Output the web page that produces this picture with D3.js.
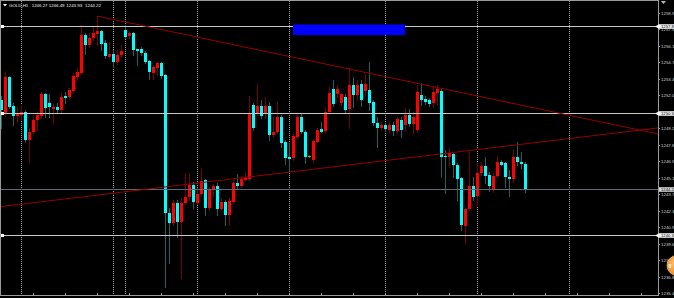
<!DOCTYPE html>
<html><head><meta charset="utf-8">
<script src="https://cdn.jsdelivr.net/npm/d3@7"></script>
<style>html,body{margin:0;padding:0;background:#000;overflow:hidden}</style>
</head><body><svg id="c" width="674" height="298"></svg>
<script>
// ---- data ----
const symbolTitle = "GOLD,H1";
const lastQuote = ["1246.27", "1246.49", "1243.93", "1244.22"];
const open = [
1251.64,1250.46,1253.56,1251.13,1250.30,1250.38,1250.63,1248.29,1248.96,1249.96,
1250.30,1252.14,1251.39,1250.88,1251.05,1250.80,1251.97,1251.89,1252.39,1253.56,
1253.89,1257.07,1256.24,1256.82,1257.16,1257.41,1256.40,1255.23,1255.48,1254.81,
1255.40,1257.49,1256.99,1257.24,1255.90,1255.90,1255.57,1254.90,1253.89,1254.31,
1254.73,1253.73,1242.18,1241.35,1243.02,1241.43,1243.02,1243.52,1244.53,1243.02,
1243.77,1244.94,1242.60,1244.19,1244.44,1242.52,1243.10,1242.02,1243.10,1244.69,
1244.44,1244.94,1245.03,1251.22,1250.55,1251.13,1250.55,1251.13,1248.71,1248.96,
1250.21,1248.12,1246.87,1246.78,1248.54,1250.21,1248.96,1246.95,1246.62,1248.12,
1249.21,1249.04,1250.63,1252.56,1252.14,1251.39,1251.89,1250.88,1252.89,1252.05,
1252.97,1252.39,1252.47,1251.47,1249.71,1249.29,1249.55,1249.13,1249.55,1249.04,
1249.96,1249.55,1250.38,1249.63,1249.13,1252.05,1251.72,1251.64,1251.39,1252.22,
1252.39,1246.95,1246.87,1247.12,1246.20,1245.11,1241.10,1242.52,1244.44,1243.61,
1245.53,1246.12,1245.36,1244.11,1245.28,1246.45,1246.37,1245.20,1245.03,1246.87,
1246.45,1246.27];
const high = [
1251.97,1253.98,1253.64,1251.39,1251.05,1251.22,1250.80,1249.29,1250.38,1250.63,
1252.31,1252.22,1252.14,1251.30,1251.39,1252.22,1252.31,1252.64,1253.89,1254.31,
1257.91,1257.24,1257.24,1257.74,1258.66,1257.49,1256.65,1256.49,1255.82,1255.82,
1256.24,1257.91,1257.41,1257.32,1255.90,1256.07,1255.73,1254.98,1254.56,1254.81,
1254.81,1253.81,1242.60,1243.27,1243.27,1243.44,1245.53,1245.53,1244.78,1244.28,
1245.95,1245.03,1244.36,1244.61,1244.69,1243.44,1243.27,1243.44,1244.94,1245.45,
1245.28,1245.61,1251.97,1251.39,1252.97,1251.64,1251.89,1251.47,1250.21,1251.47,
1250.38,1248.29,1248.04,1248.88,1250.46,1250.55,1249.13,1247.04,1248.37,1249.29,
1249.80,1251.05,1252.72,1253.31,1252.89,1252.22,1252.14,1254.31,1253.56,1253.31,
1253.31,1253.81,1254.81,1251.64,1250.21,1249.80,1249.71,1249.80,1249.80,1250.21,
1250.21,1250.97,1250.88,1250.63,1252.89,1253.06,1251.97,1251.80,1252.72,1252.89,
1252.56,1247.45,1247.62,1247.20,1246.37,1245.20,1242.69,1247.29,1245.20,1246.37,
1246.45,1246.87,1245.61,1245.53,1246.95,1246.62,1246.45,1245.78,1247.54,1248.12,
1247.29,1246.49];
const low = [
1249.29,1250.30,1250.97,1249.55,1249.80,1249.96,1248.12,1246.45,1248.88,1249.13,
1250.13,1250.21,1250.21,1249.71,1250.55,1250.55,1251.39,1251.72,1252.22,1253.31,
1253.81,1255.48,1256.07,1256.65,1256.24,1255.82,1255.15,1255.15,1254.40,1254.65,
1255.23,1256.82,1256.82,1255.40,1254.56,1255.40,1254.73,1253.39,1253.39,1253.73,
1253.48,1235.99,1238.00,1241.18,1240.18,1236.75,1242.94,1243.27,1242.60,1242.94,
1243.69,1242.02,1242.44,1243.61,1242.02,1242.44,1241.18,1241.18,1243.02,1244.28,
1244.36,1244.86,1244.94,1249.13,1250.38,1250.13,1250.13,1248.29,1248.54,1248.88,
1247.70,1246.28,1245.78,1246.62,1248.46,1248.88,1246.37,1246.87,1246.45,1248.12,
1248.96,1248.96,1250.55,1251.13,1251.89,1251.22,1250.55,1249.29,1251.05,1251.64,
1251.13,1252.05,1250.80,1249.55,1247.70,1249.13,1249.04,1248.96,1248.71,1248.88,
1248.54,1249.13,1249.46,1248.88,1248.96,1251.22,1251.30,1251.13,1251.05,1251.22,
1245.20,1243.86,1246.03,1245.20,1243.27,1240.76,1239.68,1242.44,1243.27,1242.85,
1245.36,1244.69,1244.02,1243.94,1245.20,1246.20,1244.36,1243.61,1244.78,1246.20,
1245.95,1243.93];
const close = [
1250.80,1253.56,1251.05,1250.30,1250.55,1250.63,1248.29,1248.96,1249.96,1250.38,
1252.14,1250.97,1251.05,1251.05,1250.80,1251.89,1251.80,1252.47,1253.64,1253.98,
1257.07,1256.24,1256.82,1257.24,1257.41,1256.32,1255.32,1255.48,1254.81,1255.40,
1255.73,1256.91,1257.24,1255.82,1255.73,1255.57,1254.81,1253.98,1254.40,1254.73,
1253.64,1242.18,1241.35,1243.02,1241.43,1243.02,1243.52,1244.53,1243.10,1243.77,
1244.86,1242.60,1244.19,1244.44,1242.52,1243.10,1242.02,1243.19,1244.69,1244.44,
1245.03,1245.20,1250.55,1249.29,1251.13,1250.30,1251.13,1248.71,1248.96,1250.21,
1248.04,1246.78,1246.70,1248.63,1250.21,1248.96,1246.87,1246.95,1248.21,1249.13,
1248.96,1250.63,1252.22,1251.30,1252.56,1252.14,1250.80,1252.89,1252.05,1252.89,
1251.64,1252.97,1251.39,1249.71,1249.29,1249.55,1249.21,1249.55,1249.04,1250.05,
1249.13,1250.38,1249.63,1250.21,1252.31,1251.64,1251.47,1251.30,1252.31,1252.56,
1246.87,1246.87,1247.20,1246.20,1245.03,1241.18,1242.52,1244.44,1243.52,1245.53,
1246.12,1245.28,1244.44,1245.28,1246.45,1246.20,1245.20,1245.03,1246.87,1246.45,
1246.28,1244.22];
const priceLabels = ["1258.92","1257.54","1256.16","1254.78","1253.40","1252.02","1250.64","1249.26",
  "1247.88","1246.50","1245.12","1243.74","1242.36","1240.98","1239.60","1238.22","1236.84","1235.46"];
const hLinePrices = [1257.83, 1250.55, 1240.35];
const bidPrice = 1244.22;
const separatorBars = [5, 28, 31, 49, 72, 96, 119, 142];
const trendDown = [[24, 1258.66], [118, 1252.05]];
const trendUp = [[0, 1242.72], [164, 1249.29]];
const rectBars = [73, 101];
const rectPrices = [1257.95, 1257.07];
const timeTickBars = d3.range(8, 164, 8);

// ---- layout ----
const W = 674, H = 298, plotR = 658, plotB = 295;
const svg = d3.select("#c");
svg.append("rect").attr("width", W).attr("height", H).attr("fill", "#000");
const x = d3.scaleLinear().domain([0, 164]).range([1, 657]);
const y = d3.scaleLinear().domain([1260 - 0.08364 * 298, 1260]).range([298, 0]);
const FONT = "'Liberation Sans', Arial, sans-serif";

const defs = svg.append("defs");
defs.append("clipPath").attr("id", "plot").append("rect").attr("x", 0).attr("y", 0).attr("width", plotR).attr("height", plotB);
const g = svg.append("g").attr("clip-path", "url(#plot)");

// separators
g.selectAll("line.sep").data(separatorBars).enter().append("line")
  .attr("x1", d => Math.round(x(d)) + 0.5).attr("x2", d => Math.round(x(d)) + 0.5)
  .attr("y1", 1).attr("y2", plotB)
  .attr("stroke", "#a0a0a0").attr("stroke-width", 1).attr("stroke-dasharray", "1,1");

// candles
const bars = open.map((o, i) => ({i, o, h: high[i], l: low[i], c: close[i]}));
const bull = "#ff0000", bear = "#00ffff", doji = "#00ff00";
const bullWick = "#7a0000", bearWick = "#0f6868", dojiWick = "#006600";
const cg = g.append("g");
bars.forEach(b => {
  const cx = Math.round(x(b.i));
  const up = b.c > b.o, eq = b.c === b.o;
  cg.append("line").attr("x1", cx + 0.5).attr("x2", cx + 0.5)
    .attr("y1", Math.round(y(b.h))).attr("y2", Math.round(y(b.l)) + 1)
    .attr("stroke", eq ? dojiWick : (up ? bullWick : bearWick)).attr("stroke-width", 1);
  const t = Math.round(y(Math.max(b.o, b.c)));
  const bt = Math.round(y(Math.min(b.o, b.c)));
  cg.append("rect").attr("x", cx - 1).attr("y", t).attr("width", 3).attr("height", Math.max(1, bt - t))
    .attr("fill", eq ? doji : (up ? bull : bear));
});

// bid line
g.append("line").attr("x1", 0).attr("x2", plotR).attr("y1", Math.round(y(bidPrice)) + 0.5).attr("y2", Math.round(y(bidPrice)) + 0.5)
  .attr("stroke", "#5d6b78").attr("stroke-width", 1);

// horizontal lines
g.selectAll("line.h").data(hLinePrices).enter().append("line")
  .attr("x1", 0).attr("x2", plotR)
  .attr("y1", d => Math.round(y(d)) + 0.5).attr("y2", d => Math.round(y(d)) + 0.5)
  .attr("stroke", "#c8c8c8").attr("stroke-width", 1);
svg.selectAll("rect.lm").data(hLinePrices).enter().append("rect")
  .attr("x", 1).attr("y", d => Math.round(y(d)) - 1).attr("width", 3).attr("height", 3).attr("fill", "#fff");

// rectangle
g.append("rect").attr("x", x(rectBars[0])).attr("y", y(rectPrices[0]))
  .attr("width", x(rectBars[1]) - x(rectBars[0])).attr("height", y(rectPrices[1]) - y(rectPrices[0]))
  .attr("fill", "#0000ff");

// trendlines
function trend(pts, fromStart) {
  const [[i1, p1], [i2, p2]] = pts;
  const s = (p2 - p1) / (i2 - i1);
  const iS = fromStart ? -1 : i1, iE = 165;
  g.append("line")
    .attr("x1", x(iS)).attr("y1", y(p1 + s * (iS - i1)))
    .attr("x2", x(iE)).attr("y2", y(p1 + s * (iE - i1)))
    .attr("stroke", "#950000").attr("stroke-width", 1);
}
trend(trendDown, false);
trend(trendUp, true);

// borders
const bc = "#9a9a9a";
svg.append("line").attr("x1", 0).attr("x2", plotR).attr("y1", 0.5).attr("y2", 0.5).attr("stroke", bc);
svg.append("line").attr("x1", 0.5).attr("x2", 0.5).attr("y1", 0).attr("y2", plotB).attr("stroke", bc);
svg.append("line").attr("x1", plotR + 0.5).attr("x2", plotR + 0.5).attr("y1", 0).attr("y2", plotB + 1).attr("stroke", bc);
svg.append("line").attr("x1", 0).attr("x2", plotR + 1).attr("y1", plotB + 0.5).attr("y2", plotB + 0.5).attr("stroke", bc);

// time ticks
svg.selectAll("line.tt").data(timeTickBars).enter().append("line")
  .attr("x1", d => Math.round(x(d)) + 0.5).attr("x2", d => Math.round(x(d)) + 0.5)
  .attr("y1", plotB - 2).attr("y2", plotB).attr("stroke", bc);

// price axis
const boxYs = hLinePrices.concat([bidPrice]).map(p => y(p));
const ax = svg.append("g");
priceLabels.forEach(l => {
  const yy = y(+l);
  ax.append("line").attr("x1", plotR).attr("x2", plotR + 2).attr("y1", Math.round(yy) + 0.5).attr("y2", Math.round(yy) + 0.5).attr("stroke", bc);
  // labels hidden beneath a price box are not drawn (as in the terminal)
  if (boxYs.some(b => Math.abs(b - yy) < 3)) return;
  ax.append("text").attr("x", 661).attr("y", yy + 1.6).attr("fill", "#d0d0d0")
    .attr("font-family", FONT).attr("font-size", 4.4).text(l);
});
function priceBox(p, arrow, bg) {
  const yy = Math.round(y(p)) + 0.5;
  if (arrow) ax.append("path").attr("d", `M${plotR - 3},${yy} L${plotR + 1},${yy - 2.3} L${plotR + 1},${yy + 2.3}Z`).attr("fill", "#fff");
  ax.append("rect").attr("x", plotR + 1).attr("y", yy - 2.3).attr("width", 16).attr("height", 4.6).attr("fill", bg);
  ax.append("text").attr("x", 661).attr("y", yy + 1.5).attr("fill", "#000")
    .attr("font-family", FONT).attr("font-size", 4.2).text(p.toFixed(2));
}
hLinePrices.forEach(p => priceBox(p, true, "#f2f2f2"));
priceBox(bidPrice, false, "#d8d8d8");

// title
svg.append("path").attr("d", "M3,4 L7,4 L5,6.5Z").attr("fill", "#fff");
const title = svg.append("text").attr("y", 7.2).attr("fill", "#f0f0f0").attr("font-family", FONT).attr("font-size", 4.4);
title.append("tspan").attr("x", 9).text(symbolTitle);
const qx = [31.7, 48.7, 66.3, 85];
lastQuote.forEach((q, k) => title.append("tspan").attr("x", qx[k]).text(q));

// top-right marker
svg.append("path").attr("d", "M661,1 L666,1 L663.5,4Z").attr("fill", "#bbb");

// orange badge
const rg = defs.append("radialGradient").attr("id", "og").attr("cx", "40%").attr("cy", "40%").attr("r", "60%");
rg.append("stop").attr("offset", "0%").attr("stop-color", "#ffc070");
rg.append("stop").attr("offset", "100%").attr("stop-color", "#e8891e");
svg.append("circle").attr("cx", 677).attr("cy", 265.5).attr("r", 10).attr("fill", "url(#og)").attr("stroke", "#f6b15a").attr("stroke-width", 0.8);
svg.append("text").attr("x", 668.5).attr("y", 267.5).attr("fill", "#fff").attr("font-family", FONT).attr("font-size", 5).attr("font-weight", "bold").text("8");
</script></body></html>
